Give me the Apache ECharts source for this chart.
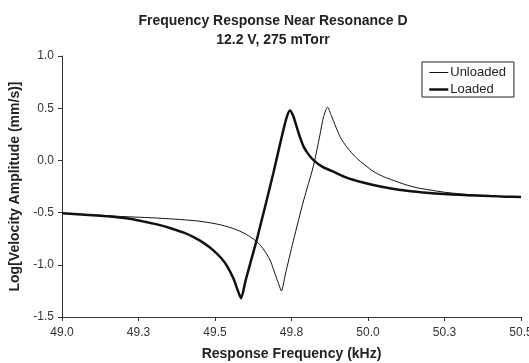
<!DOCTYPE html>
<html>
<head>
<meta charset="utf-8">
<script src="https://cdn.jsdelivr.net/npm/echarts@6/dist/echarts.min.js"></script>
<style>
html,body{margin:0;padding:0;background:#fff;}
#chart{width:529px;height:363px;}
</style>
</head>
<body>
<div id="chart"></div>
<script>
// ---- data ----
const unloadedFreq = [49.00,49.05,49.10,49.15,49.20,49.29,49.32,49.40,49.45,49.50,49.54,49.58,49.61,49.64,49.66,49.68,49.69,49.70,49.71,49.717,49.73,49.756,49.79,49.821,49.84,49.855,49.868,49.88,49.895,49.91,49.93,49.96,49.99,50.02,50.05,50.08,50.12,50.16,50.20,50.25,50.30,50.35,50.40,50.45,50.50];
const unloadedAmp  = [-0.507,-0.515,-0.522,-0.530,-0.538,-0.549,-0.554,-0.569,-0.583,-0.606,-0.634,-0.676,-0.722,-0.788,-0.858,-0.955,-1.035,-1.120,-1.200,-1.250,-1.090,-0.770,-0.380,-0.060,0.200,0.420,0.510,0.430,0.320,0.220,0.130,0.030,-0.045,-0.110,-0.155,-0.188,-0.230,-0.262,-0.282,-0.305,-0.320,-0.332,-0.340,-0.347,-0.353];

const loadedFreq = [49.00,49.05,49.10,49.15,49.21,49.25,49.29,49.32,49.36,49.40,49.43,49.46,49.49,49.52,49.54,49.56,49.575,49.585,49.60,49.64,49.69,49.72,49.735,49.745,49.755,49.765,49.778,49.79,49.805,49.821,49.85,49.887,49.93,49.974,50.04,50.10,50.15,50.20,50.25,50.30,50.35,50.40,50.45,50.50];
const loadedAmp  = [-0.507,-0.515,-0.525,-0.535,-0.555,-0.575,-0.600,-0.620,-0.655,-0.695,-0.735,-0.785,-0.850,-0.935,-1.015,-1.130,-1.250,-1.320,-1.150,-0.720,-0.130,0.250,0.420,0.478,0.430,0.340,0.220,0.130,0.060,0.005,-0.060,-0.108,-0.165,-0.204,-0.250,-0.282,-0.298,-0.312,-0.322,-0.330,-0.336,-0.342,-0.347,-0.351];

const xTicks = {min: 49.0, max: 50.5, interval: 0.25};
const yTicks = {min: -1.5, max: 1.0, interval: 0.5};

const titleText = 'Frequency Response Near Resonance D\n12.2 V, 275 mTorr';
const xName = 'Response Frequency (kHz)';
const yName = 'Log[Velocity Amplitude (mm/s)]';
const seriesNames = ['Unloaded', 'Loaded'];

const zip = (a, b) => a.map((v, i) => [v, b[i]]);
const FONT = '"Liberation Sans", Arial, sans-serif';

const chart = echarts.init(document.getElementById('chart'));
chart.setOption({
  animation: false,
  backgroundColor: '#fff',
  textStyle: {fontFamily: FONT},
  title: {
    text: titleText,
    left: 273,
    top: 12,
    padding: 0,
    textAlign: 'center',
    textStyle: {fontFamily: FONT, fontSize: 14, fontWeight: 'bold', color: '#222', lineHeight: 18.5}
  },
  legend: {
    orient: 'vertical',
    left: 422,
    top: 62,
    padding: [4, 8, 1, 6],
    itemGap: 4,
    itemWidth: 19,
    itemHeight: 14,
    borderColor: '#222',
    borderWidth: 1,
    borderRadius: 0,
    itemStyle: {opacity: 0},
    textStyle: {fontFamily: FONT, fontSize: 13, color: '#222', padding: [0, 0, 0, -3]},
    data: [
      {name: seriesNames[0], lineStyle: {width: 1, color: '#111'}},
      {name: seriesNames[1], lineStyle: {width: 2.5, color: '#111'}}
    ]
  },
  grid: {left: 62, right: 8, top: 56, bottom: 46, containLabel: false, outerBoundsMode: 'none'},
  xAxis: {
    type: 'value',
    min: xTicks.min, max: xTicks.max, interval: xTicks.interval,
    name: xName,
    nameLocation: 'middle',
    nameGap: 30,
    nameTextStyle: {fontFamily: FONT, fontSize: 14, fontWeight: 'bold', color: '#222'},
    axisLine: {show: true, onZero: false, lineStyle: {color: '#333', width: 1}},
    axisTick: {show: true, inside: false, length: 4, lineStyle: {color: '#333'}},
    axisLabel: {fontFamily: FONT, fontSize: 12, color: '#333', margin: 10, formatter: v => v.toFixed(1)},
    splitLine: {show: false}
  },
  yAxis: {
    type: 'value',
    min: yTicks.min, max: yTicks.max, interval: yTicks.interval,
    name: yName,
    nameLocation: 'middle',
    nameGap: 35,
    nameTextStyle: {fontFamily: FONT, fontSize: 14, fontWeight: 'bold', color: '#222'},
    axisLine: {show: true, onZero: false, lineStyle: {color: '#333', width: 1}},
    axisTick: {show: true, inside: false, length: 4, lineStyle: {color: '#333'}},
    axisLabel: {fontFamily: FONT, fontSize: 12, color: '#333', margin: 8, formatter: v => v.toFixed(1)},
    splitLine: {show: false}
  },
  series: [
    {
      name: seriesNames[0], type: 'line', data: zip(unloadedFreq, unloadedAmp),
      symbol: 'none', smooth: 0.25, color: '#111',
      lineStyle: {color: '#111', width: 1}
    },
    {
      name: seriesNames[1], type: 'line', data: zip(loadedFreq, loadedAmp),
      symbol: 'none', smooth: 0.25, color: '#111',
      lineStyle: {color: '#111', width: 2.5}
    }
  ]
});
</script>
</body>
</html>
